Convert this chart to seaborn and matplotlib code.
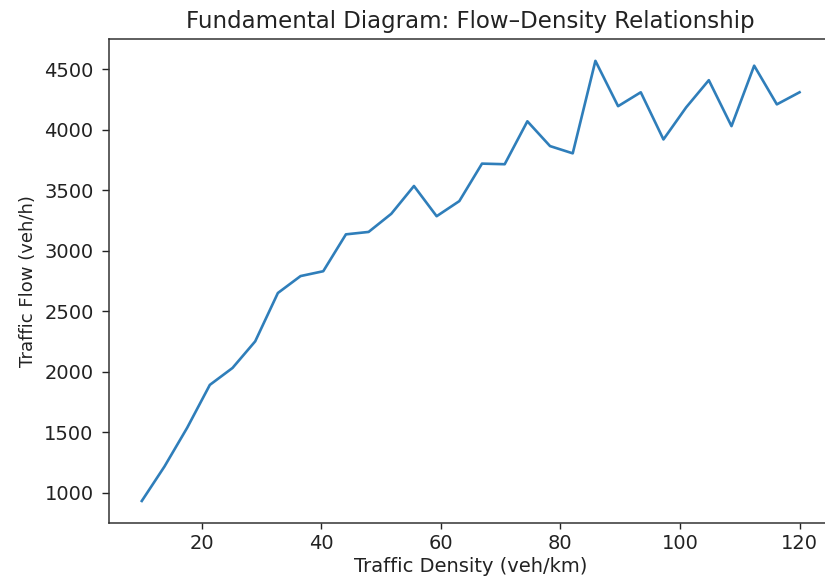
import numpy as np
import pandas as pd
import matplotlib
matplotlib.use("Agg")
import matplotlib.pyplot as plt
import seaborn as sns

# values (30 samples, density 10..120)
density = np.linspace(10, 120, 30)
flow = [930, 1215, 1535, 1890, 2030, 2250, 2650, 2790, 2830, 3135,
        3155, 3305, 3535, 3285, 3410, 3720, 3715, 4070, 3865, 3805,
        4570, 4195, 4310, 3920, 4185, 4410, 4030, 4530, 4210, 4310]

df = pd.DataFrame({'Density': density, 'Flow': flow})

plt.rcParams['font.family'] = ['DejaVu Sans']
fig = plt.figure(figsize=(8.25, 5.84), dpi=100)
# right edge of the axes runs just past the canvas, as in the reference
ax = fig.add_axes([0.132, 0.1045, 0.877, 0.829])

sns.lineplot(data=df, x='Density', y='Flow', ax=ax, color='#2f7eba', linewidth=1.9)

ax.set_title('Fundamental Diagram: Flow\u2013Density Relationship', fontsize=16.5, color='#222222', pad=8)
ax.set_xlabel('Traffic Density (veh/km)', fontsize=14, color='#222222', labelpad=3)
ax.set_ylabel('Traffic Flow (veh/h)', fontsize=13, color='#222222', labelpad=5)
ax.tick_params(axis='x', labelsize=14, width=1.0, length=4.5, pad=3.5, colors='#222222')
ax.tick_params(axis='y', labelsize=14, width=1.0, length=5, pad=6, colors='#222222')
for s in ax.spines.values():
    s.set_linewidth(1.1)
    s.set_color('#333333')
ax.spines['right'].set_visible(False)

fig.savefig('out.png', dpi=100)
